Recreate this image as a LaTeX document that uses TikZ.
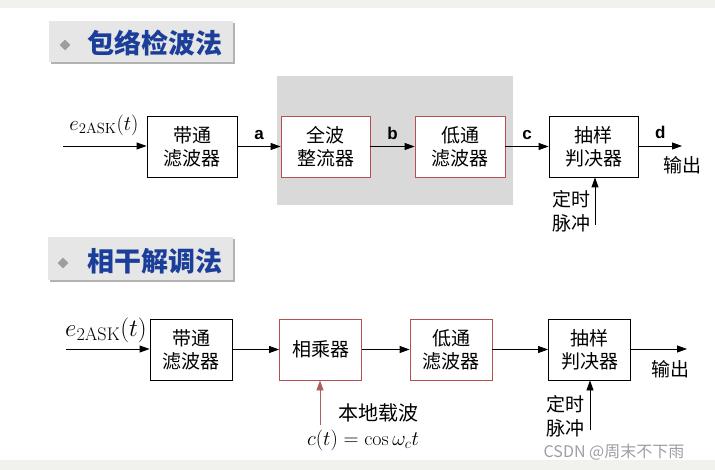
\documentclass[tikz,border=0pt]{standalone}
\usepackage{fontspec}
\newfontfamily\cjk{Noto Sans CJK SC}
\newfontfamily\labfont{Liberation Sans}
\usetikzlibrary{arrows.meta,shapes.geometric,shadows}
\definecolor{TitleBlue}{HTML}{1B3E9B}
\definecolor{TitleGray}{HTML}{E6E6E6}
\definecolor{ShadeGray}{HTML}{D9D9D9}
\definecolor{BoxRed}{HTML}{B5504E}
\definecolor{CarrierRed}{HTML}{B05C5C}
\definecolor{StripGray}{HTML}{F1F1EE}
\definecolor{MarkGray}{HTML}{9E9E9E}

\tikzset{
  blk/.style={draw, fill=white, line width=0.8pt, minimum width=90pt, minimum height=61pt,
    inner sep=0pt, align=center, font=\cjk\fontsize{19}{23}\selectfont},
  blkr/.style={blk, draw=BoxRed},
  titlebox/.style={fill=TitleGray, minimum width=184pt, minimum height=41pt,
    drop shadow={shadow xshift=1.5pt, shadow yshift=-2.5pt, fill=black, opacity=0.3}},
  titletext/.style={text=TitleBlue, font=\cjk\bfseries\fontsize{27}{27}\selectfont},
  bullet/.style={diamond, fill=MarkGray, minimum size=11pt, inner sep=0pt},
  sig/.style={font=\labfont\bfseries\fontsize{17}{17}\selectfont},
  note/.style={font=\cjk\fontsize{19}{24}\selectfont, align=left, inner sep=0pt},
}

\begin{document}
\begin{tikzpicture}[x=1pt, y=-1pt, >={Triangle[length=10pt,width=7pt]}, line width=0.8pt]
  \useasboundingbox (0,0) rectangle (715,470);
  \fill[StripGray] (0,0) rectangle (715,8);
  \fill[StripGray] (0,460) rectangle (715,470);

  \node[titlebox] (head1) at (141,41.5) {};
  \node[bullet] (dot1) at (65,45) {};
  \node[titletext] (name1) at (155,43) {包络检波法};

  \fill[ShadeGray] (277,76) rectangle (513,205);

  \node[blk] (bp1) at (192,146.5) {带通\\滤波器};
  \node[blkr, minimum width=89pt] (rect) at (325.5,146.5) {全波\\整流器};
  \node[blkr] (lp1) at (460,146.5) {低通\\滤波器};
  \node[blk, minimum width=89pt] (sd1) at (593.5,146.5) {抽样\\判决器};

  \coordinate (in1) at (63,146);
  \coordinate (out1) at (682,146);
  \coordinate (tp1) at (595,225);
  \draw[->] (in1) -- (in1 -| bp1.west);
  \node[font=\fontsize{21}{21}\selectfont] (e1) at (104,125) {$e_{\mathrm{2ASK}}(t)$};
  \draw[->] (bp1) -- (rect) node[midway, above=3pt, sig] {a};
  \draw[->] (rect) -- (lp1) node[midway, above=3pt, sig] {b};
  \draw[->] (lp1) -- (sd1) node[midway, above=3pt, sig] {c};
  \draw[->] (sd1.east |- out1) -- (out1) node[midway, above=4pt, sig] {d};
  \node[note, below=10pt] (outtxt1) at (out1) {输出};
  \draw[->] (tp1) -- (tp1 |- sd1.south);
  \node[note, anchor=south east] (clk1) at (591,232) {定时\\脉冲};

  \node[titlebox, minimum width=185pt, minimum height=43pt] (head2) at (140.5,258.5) {};
  \node[bullet] (dot2) at (63,263) {};
  \node[titletext] (name2) at (155,261) {相干解调法};

  \node[blk, minimum width=82pt] (bp2) at (191,349.5) {带通\\滤波器};
  \node[blkr, minimum width=82pt] (mul) at (320.5,349.5) {相乘器};
  \node[blkr, minimum width=82pt] (lp2) at (451,349.5) {低通\\滤波器};
  \node[blk, minimum width=82pt] (sd2) at (589.5,349.5) {抽样\\判决器};

  \coordinate (in2) at (66,349);
  \coordinate (out2) at (687,349);
  \coordinate (tp2) at (590,430);
  \coordinate (lo) at (320,425);
  \draw[->] (in2) -- (in2 -| bp2.west);
  \node[font=\fontsize{26}{26}\selectfont] (e2) at (106,330) {$e_{\mathrm{2ASK}}(t)$};
  \draw[->] (bp2) -- (mul);
  \draw[->] (mul) -- (lp2);
  \draw[->] (lp2) -- (sd2);
  \draw[->] (sd2.east |- out2) -- (out2);
  \node[note] (outtxt2) at (670,369) {输出};
  \draw[->] (tp2) -- (tp2 |- sd2.south);
  \node[note, anchor=south east] (clk2) at (585,437) {定时\\脉冲};
  \draw[->, CarrierRed] (lo) -- (lo |- mul.south);
  \node[font=\cjk\fontsize{20}{20}\selectfont] (lotxt) at (378,413) {本地载波};
  \node[font=\fontsize{20}{20}\selectfont] (lomath) at (363,440) {$c(t)=\cos\omega_c t$};

  \node[text=MarkGray, font=\cjk\fontsize{16}{16}\selectfont] (mark) at (614,452) {CSDN @周末不下雨};
\end{tikzpicture}
\end{document}
